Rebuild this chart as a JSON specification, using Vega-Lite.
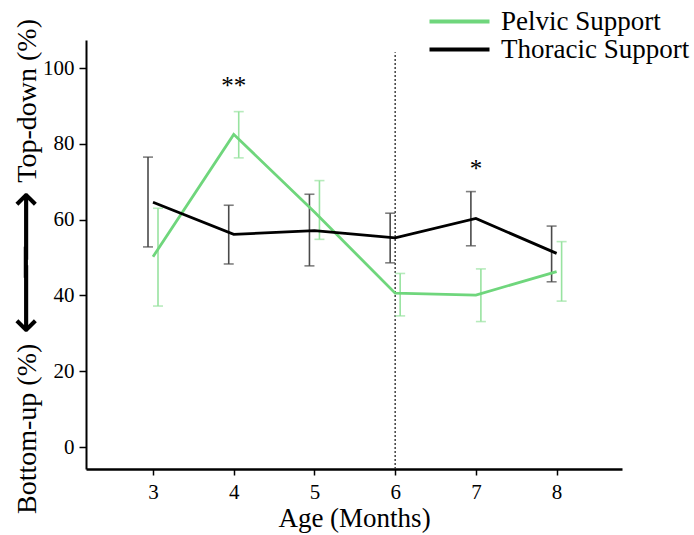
{
  "$schema": "https://vega.github.io/schema/vega-lite/v6.json",
  "width": 536,
  "height": 429,
  "autosize": "none",
  "padding": {"left": 86, "top": 40, "right": 72, "bottom": 66},
  "config": {"view": {"stroke": null}, "font": "Liberation Serif"},
  "resolve": {"axis": {"y": "independent"}},
  "datasets": {
    "series": [
      {"age": 3, "group": "Pelvic Support", "mean": 50.2, "lo": 37.2, "hi": 63.0},
      {"age": 4, "group": "Pelvic Support", "mean": 82.5, "lo": 76.3, "hi": 88.5},
      {"age": 5, "group": "Pelvic Support", "mean": 62.0, "lo": 54.8, "hi": 70.3},
      {"age": 6, "group": "Pelvic Support", "mean": 40.6, "lo": 34.6, "hi": 45.8},
      {"age": 7, "group": "Pelvic Support", "mean": 40.1, "lo": 33.1, "hi": 47.0},
      {"age": 8, "group": "Pelvic Support", "mean": 46.3, "lo": 38.5, "hi": 54.2},
      {"age": 3, "group": "Thoracic Support", "mean": 64.6, "lo": 52.8, "hi": 76.5},
      {"age": 4, "group": "Thoracic Support", "mean": 56.1, "lo": 48.3, "hi": 63.8},
      {"age": 5, "group": "Thoracic Support", "mean": 57.1, "lo": 47.8, "hi": 66.7},
      {"age": 6, "group": "Thoracic Support", "mean": 55.2, "lo": 48.6, "hi": 61.7},
      {"age": 7, "group": "Thoracic Support", "mean": 60.3, "lo": 53.1, "hi": 67.4},
      {"age": 8, "group": "Thoracic Support", "mean": 51.1, "lo": 43.6, "hi": 58.3}
    ],
    "stars": [
      {"age": 4, "y": 93.1, "label": "**"},
      {"age": 7, "y": 71.2, "label": "*"}
    ],
    "divider": [
      {"age": 6, "y1": -5.8, "y2": 104.2}
    ]
  },
  "layer": [
    {
      "data": {"name": "divider"},
      "mark": {"type": "rule", "color": "#333333", "strokeWidth": 1.4, "strokeDash": [2, 2]},
      "encoding": {
        "x": {"field": "age", "type": "quantitative", "scale": {"domain": [2.17, 8.81], "nice": false, "zero": false}},
        "y": {
          "field": "y1", "type": "quantitative",
          "scale": {"domain": [-5.8, 107.4], "nice": false, "zero": false},
          "axis": {
            "orient": "left", "domain": false, "ticks": false, "labels": false, "grid": false,
            "title": "⟵⟶",
            "titleFont": "DejaVu Sans", "titleFontSize": 50, "titleFontWeight": "normal", "titleColor": "black",
            "titleAngle": 270, "titleAlign": "center", "titleBaseline": "middle",
            "titleX": -60, "titleY": 222
          }
        },
        "y2": {"field": "y2"}
      }
    },
    {
      "data": {"name": "series"},
      "transform": [{"filter": "datum.group === 'Pelvic Support'"}],
      "layer": [
        {
          "mark": {"type": "rule", "color": "#98e3a0", "strokeWidth": 1.6, "xOffset": 5},
          "encoding": {
            "x": {"field": "age", "type": "quantitative"},
            "y": {"field": "lo", "type": "quantitative", "axis": null},
            "y2": {"field": "hi"}
          }
        },
        {
          "mark": {"type": "tick", "color": "#98e3a0", "thickness": 1.6, "size": 10, "orient": "horizontal", "xOffset": 5},
          "encoding": {
            "x": {"field": "age", "type": "quantitative"},
            "y": {"field": "lo", "type": "quantitative", "axis": null}
          }
        },
        {
          "mark": {"type": "tick", "color": "#98e3a0", "thickness": 1.6, "size": 10, "orient": "horizontal", "xOffset": 5},
          "encoding": {
            "x": {"field": "age", "type": "quantitative"},
            "y": {"field": "hi", "type": "quantitative", "axis": null}
          }
        }
      ]
    },
    {
      "data": {"name": "series"},
      "transform": [{"filter": "datum.group === 'Thoracic Support'"}],
      "layer": [
        {
          "mark": {"type": "rule", "color": "#4a4a4a", "strokeWidth": 1.6, "xOffset": -5},
          "encoding": {
            "x": {"field": "age", "type": "quantitative"},
            "y": {"field": "lo", "type": "quantitative", "axis": null},
            "y2": {"field": "hi"}
          }
        },
        {
          "mark": {"type": "tick", "color": "#4a4a4a", "thickness": 1.6, "size": 10, "orient": "horizontal", "xOffset": -5},
          "encoding": {
            "x": {"field": "age", "type": "quantitative"},
            "y": {"field": "lo", "type": "quantitative", "axis": null}
          }
        },
        {
          "mark": {"type": "tick", "color": "#4a4a4a", "thickness": 1.6, "size": 10, "orient": "horizontal", "xOffset": -5},
          "encoding": {
            "x": {"field": "age", "type": "quantitative"},
            "y": {"field": "hi", "type": "quantitative", "axis": null}
          }
        }
      ]
    },
    {
      "data": {"name": "series"},
      "mark": {"type": "line", "strokeWidth": 2.8},
      "encoding": {
        "x": {
          "field": "age", "type": "quantitative",
          "axis": {
            "values": [3, 4, 5, 6, 7, 8], "format": "d",
            "grid": false,
            "domainColor": "black", "domainWidth": 2.5,
            "tickColor": "black", "tickWidth": 1.5, "tickSize": 6,
            "labelFont": "Liberation Serif", "labelFontSize": 21, "labelColor": "black", "labelPadding": 6,
            "title": "Age (Months)",
            "titleFont": "Liberation Serif", "titleFontSize": 27, "titleFontWeight": "normal", "titleColor": "black",
            "titlePadding": 3
          }
        },
        "y": {
          "field": "mean", "type": "quantitative",
          "axis": {
            "orient": "left",
            "values": [0, 20, 40, 60, 80, 100],
            "grid": false,
            "domainColor": "black", "domainWidth": 2,
            "tickColor": "black", "tickWidth": 1.5, "tickSize": 7,
            "labelFont": "Liberation Serif", "labelFontSize": 21, "labelColor": "black", "labelPadding": 5,
            "title": "Bottom-up (%)\u2003\u2003\u2003\u2003\u2003\u2002\u2005Top-down (%)",
            "titleFont": "Liberation Serif", "titleFontSize": 28, "titleFontWeight": "normal", "titleColor": "black",
            "titleAngle": 270, "titleAlign": "center", "titleBaseline": "middle",
            "titleX": -59, "titleY": 226
          }
        },
        "color": {
          "field": "group", "type": "nominal",
          "scale": {"domain": ["Pelvic Support", "Thoracic Support"], "range": ["#6fd67c", "#000000"]},
          "legend": {
            "title": null,
            "orient": "none", "legendX": 360, "legendY": -32,
            "symbolType": "M-3,0H3", "symbolSize": 400, "symbolStrokeWidth": 4,
            "labelFont": "Liberation Serif", "labelFontSize": 27, "labelColor": "black", "labelOffset": 28, "labelLimit": 0,
            "rowPadding": 0, "padding": 0,
            "encode": {
              "symbols": {
                "update": {
                  "stroke": {"signal": "datum.value === 'Pelvic Support' ? '#82da5c' : '#000000'"},
                  "fill": {"value": "transparent"}
                }
              }
            }
          }
        }
      }
    },
    {
      "data": {"name": "stars"},
      "mark": {"type": "text", "font": "Liberation Serif", "fontSize": 25, "color": "black", "baseline": "alphabetic"},
      "encoding": {
        "x": {"field": "age", "type": "quantitative"},
        "y": {
          "field": "y", "type": "quantitative",
          "axis": {
            "orient": "left", "domain": false, "ticks": false, "labels": false, "grid": false,
            "title": "─",
            "titleFont": "DejaVu Sans", "titleFontSize": 50, "titleFontWeight": "normal", "titleColor": "black",
            "titleAngle": 270, "titleAlign": "center", "titleBaseline": "middle",
            "titleX": -58.5, "titleY": 222
          }
        },
        "text": {"field": "label"}
      }
    }
  ]
}
